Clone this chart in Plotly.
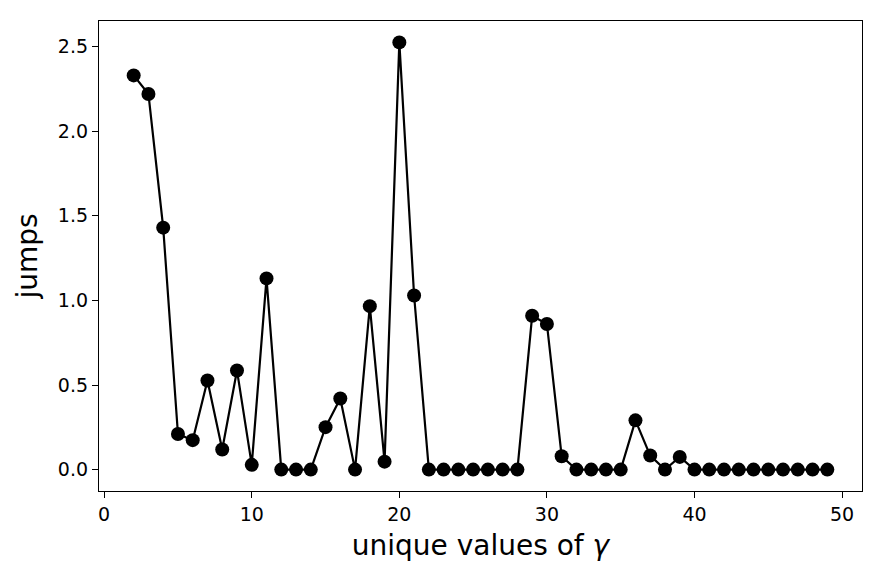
import plotly.graph_objects as go

x_vals = list(range(2, 50))
jumps = [2.33, 2.22, 1.43, 0.21, 0.174, 0.527, 0.119, 0.586, 0.028, 1.13,
         0.0, 0.0, 0.0, 0.251, 0.42, 0.0, 0.966, 0.047, 2.525, 1.029,
         0.0, 0.0, 0.0, 0.0, 0.0, 0.0, 0.0, 0.909, 0.861, 0.079,
         0.0, 0.0, 0.0, 0.0, 0.291, 0.083, 0.0, 0.075, 0.0, 0.0,
         0.0, 0.0, 0.0, 0.0, 0.0, 0.0, 0.0, 0.0]
x_ticks = [0, 10, 20, 30, 40, 50]
y_ticks = [0.0, 0.5, 1.0, 1.5, 2.0, 2.5]

fig = go.Figure(go.Scatter(
    x=x_vals, y=jumps, mode="lines+markers",
    line=dict(color="black", width=2.2),
    marker=dict(color="black", size=14),
))

font = "DejaVu Sans"
axis_common = dict(
    showgrid=False, zeroline=False, showline=True, linecolor="black", linewidth=1.3,
    mirror=True, ticks="outside", ticklen=6, tickwidth=1.2, tickcolor="black",
    tickfont=dict(family=font, size=19, color="black"),
)
fig.update_layout(
    width=884, height=576,
    margin=dict(l=99, r=22, t=21, b=85),
    paper_bgcolor="white", plot_bgcolor="white",
    showlegend=False,
    xaxis=dict(range=[-0.35, 51.35], tickvals=x_ticks, ticktext=[str(t) for t in x_ticks],
               title=dict(text="unique values of <i>γ</i>", font=dict(family=font, size=28, color="black"), standoff=11),
               **axis_common),
    yaxis=dict(range=[-0.1265, 2.6515], tickvals=y_ticks, ticktext=[f"{t:.1f}" for t in y_ticks],
               title=dict(text="jumps", font=dict(family=font, size=28, color="black"), standoff=12),
               **axis_common),
)
fig.write_html("out.html")
